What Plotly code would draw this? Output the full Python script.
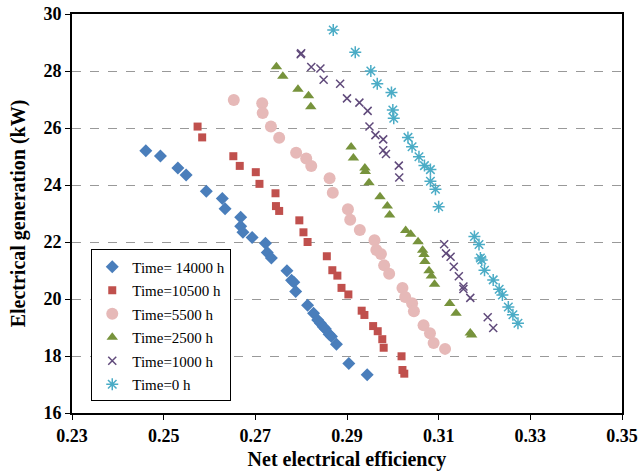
import plotly.graph_objects as go

# Time = 14000 h
eff_14000 = [0.2461, 0.2493, 0.2531, 0.2549, 0.2593, 0.2628, 0.2634, 0.2668, 0.2668, 0.2673,
             0.2693, 0.2722, 0.2726, 0.2735, 0.2769, 0.2779, 0.2784, 0.2788, 0.2814, 0.2827,
             0.2836, 0.2842, 0.2848, 0.2853, 0.2861, 0.2866, 0.2877, 0.2904, 0.2944]
gen_14000 = [25.20, 25.02, 24.60, 24.35, 23.78, 23.53, 23.17, 22.87, 22.55, 22.34,
             22.16, 21.96, 21.63, 21.44, 20.99, 20.66, 20.59, 20.26, 19.78, 19.50,
             19.26, 19.15, 19.03, 18.95, 18.76, 18.68, 18.41, 17.74, 17.34]

# Time = 10500 h
eff_10500 = [0.2574, 0.2584, 0.2652, 0.2666, 0.2701, 0.2709, 0.2744, 0.2745, 0.2752, 0.2796,
             0.2805, 0.2814, 0.2856, 0.2868, 0.2879, 0.2888, 0.2903, 0.2932, 0.2938, 0.2957,
             0.2967, 0.2977, 0.2980, 0.3019, 0.3021, 0.3025]
gen_10500 = [26.05, 25.67, 25.01, 24.67, 24.45, 24.04, 23.71, 23.26, 23.09, 22.76,
             22.34, 22.00, 21.50, 21.01, 20.82, 20.39, 20.16, 19.59, 19.44, 19.05,
             18.87, 18.59, 18.29, 17.99, 17.51, 17.38]

# Time = 5500 h
eff_5500 = [0.2653, 0.2715, 0.2716, 0.2734, 0.2752, 0.2789, 0.2811, 0.2822, 0.2862, 0.2869,
            0.2902, 0.2907, 0.2928, 0.2960, 0.2964, 0.2974, 0.2981, 0.2992, 0.3021, 0.3027,
            0.3042, 0.3046, 0.3067, 0.3081, 0.3089, 0.3114]
gen_5500 = [26.98, 26.87, 26.53, 26.05, 25.66, 25.13, 24.93, 24.67, 24.24, 23.73,
            23.15, 22.78, 22.42, 22.06, 21.72, 21.58, 21.18, 20.89, 20.39, 20.07,
            19.85, 19.57, 19.08, 18.80, 18.46, 18.25]

# Time = 2500 h
eff_2500 = [0.2746, 0.2760, 0.2793, 0.2816, 0.2821, 0.2909, 0.2914, 0.2939, 0.2940, 0.2948,
            0.2972, 0.2988, 0.2993, 0.3028, 0.3039, 0.3055, 0.3065, 0.3068, 0.3070, 0.3079,
            0.3084, 0.3091, 0.3124, 0.3138, 0.3169, 0.3172]
gen_2500 = [28.15, 27.82, 27.36, 27.13, 26.75, 25.33, 24.95, 24.60, 24.47, 24.08,
            23.59, 23.26, 22.95, 22.40, 22.27, 22.01, 21.71, 21.56, 21.32, 20.99,
            20.81, 20.52, 19.84, 19.50, 18.81, 18.74]

# Time = 1000 h
eff_1000 = [0.2799, 0.2800, 0.2822, 0.2842, 0.2849, 0.2885, 0.2900, 0.2927, 0.2945, 0.2949,
            0.2962, 0.2979, 0.2979, 0.2985, 0.3013, 0.3014, 0.3112, 0.3116, 0.3126, 0.3133,
            0.3144, 0.3154, 0.3154, 0.3169, 0.3207, 0.3219]
gen_1000 = [28.59, 28.62, 28.14, 28.09, 27.69, 27.55, 27.04, 26.89, 26.60, 26.05,
            25.75, 25.60, 25.22, 25.09, 24.68, 24.26, 21.92, 21.60, 21.48, 21.13,
            20.80, 20.44, 20.35, 20.04, 19.36, 18.98]

# Time = 0 h
eff_0 = [0.2870, 0.2918, 0.2952, 0.2966, 0.2997, 0.3000, 0.3002, 0.3033, 0.3042, 0.3057,
         0.3069, 0.3082, 0.3082, 0.3093, 0.3100, 0.3178, 0.3188, 0.3191, 0.3194, 0.3200,
         0.3219, 0.3232, 0.3239, 0.3252, 0.3262, 0.3273]
gen_0 = [29.44, 28.66, 28.00, 27.55, 27.25, 26.63, 26.34, 25.67, 25.34, 24.99,
         24.68, 24.54, 24.13, 23.85, 23.24, 22.19, 21.91, 21.44, 21.37, 21.01,
         20.67, 20.34, 20.14, 19.72, 19.45, 19.15]

x_ticks = [0.23, 0.25, 0.27, 0.29, 0.31, 0.33, 0.35]
x_tick_labels = ["0.23", "0.25", "0.27", "0.29", "0.31", "0.33", "0.35"]
y_ticks = [16, 18, 20, 22, 24, 26, 28, 30]

series = [
    ("Time= 14000 h", eff_14000, gen_14000, dict(symbol="diamond", size=10, color="#4A7EBB")),
    ("Time=10500 h", eff_10500, gen_10500, dict(symbol="square", size=8, color="#C0504D")),
    ("Time=5500 h", eff_5500, gen_5500, dict(symbol="circle", size=12, color="#E6B9B8")),
    ("Time=2500 h", eff_2500, gen_2500, dict(symbol="triangle-up", size=10, color="#77933C")),
    ("Time=1000 h", eff_1000, gen_1000, dict(symbol="x-thin", size=8, color="#604A7B",
                                             line=dict(color="#604A7B", width=1.5))),
    ("Time=0 h", eff_0, gen_0, dict(symbol="asterisk", size=10, color="#4BACC6",
                                    line=dict(color="#4BACC6", width=1.5))),
]

fig = go.Figure()
for name, xs, ys, mk in series:
    fig.add_trace(go.Scatter(x=xs, y=ys, mode="markers", name=name, marker=mk, legendgroup=name))

serif = "Times New Roman, Liberation Serif, serif"

fig.update_layout(
    width=642, height=471,
    margin=dict(l=72, r=20, t=14, b=58),
    paper_bgcolor="white", plot_bgcolor="white",
    font=dict(family=serif, color="black"),
    showlegend=True,
    legend=dict(
        x=0.035, y=0.41, xanchor="left", yanchor="top",
        bgcolor="white", bordercolor="black", borderwidth=1,
        font=dict(family=serif, size=15, color="black"),
        tracegroupgap=1, itemwidth=30,
    ),
)

fig.update_xaxes(
    range=[0.23, 0.35], tickvals=x_ticks, ticktext=x_tick_labels,
    showgrid=False, zeroline=False, automargin=False,
    showline=True, linecolor="black", linewidth=2, mirror=True,
    ticks="outside", ticklen=5, tickcolor="black",
    tickfont=dict(family=serif, size=18, color="black", weight="bold"),
    title=dict(text="<b>Net electrical efficiency</b>", font=dict(family=serif, size=20), standoff=10),
)
fig.update_yaxes(
    range=[16, 30], tickvals=y_ticks,
    showgrid=True, gridcolor="#999999", griddash="dash", gridwidth=1,
    zeroline=False, automargin=False,
    showline=True, linecolor="black", linewidth=2, mirror=True,
    ticks="outside", ticklen=5, tickcolor="black",
    tickfont=dict(family=serif, size=18, color="black", weight="bold"),
    title=dict(text="<b>Electrical generation (kW)</b>", font=dict(family=serif, size=20), standoff=12),
)

# remove the default 8px page margin so the 642x471 figure fills the window exactly
fig.write_html("out.html", config={"displayModeBar": False},
               post_script="document.body.style.margin='0';")
